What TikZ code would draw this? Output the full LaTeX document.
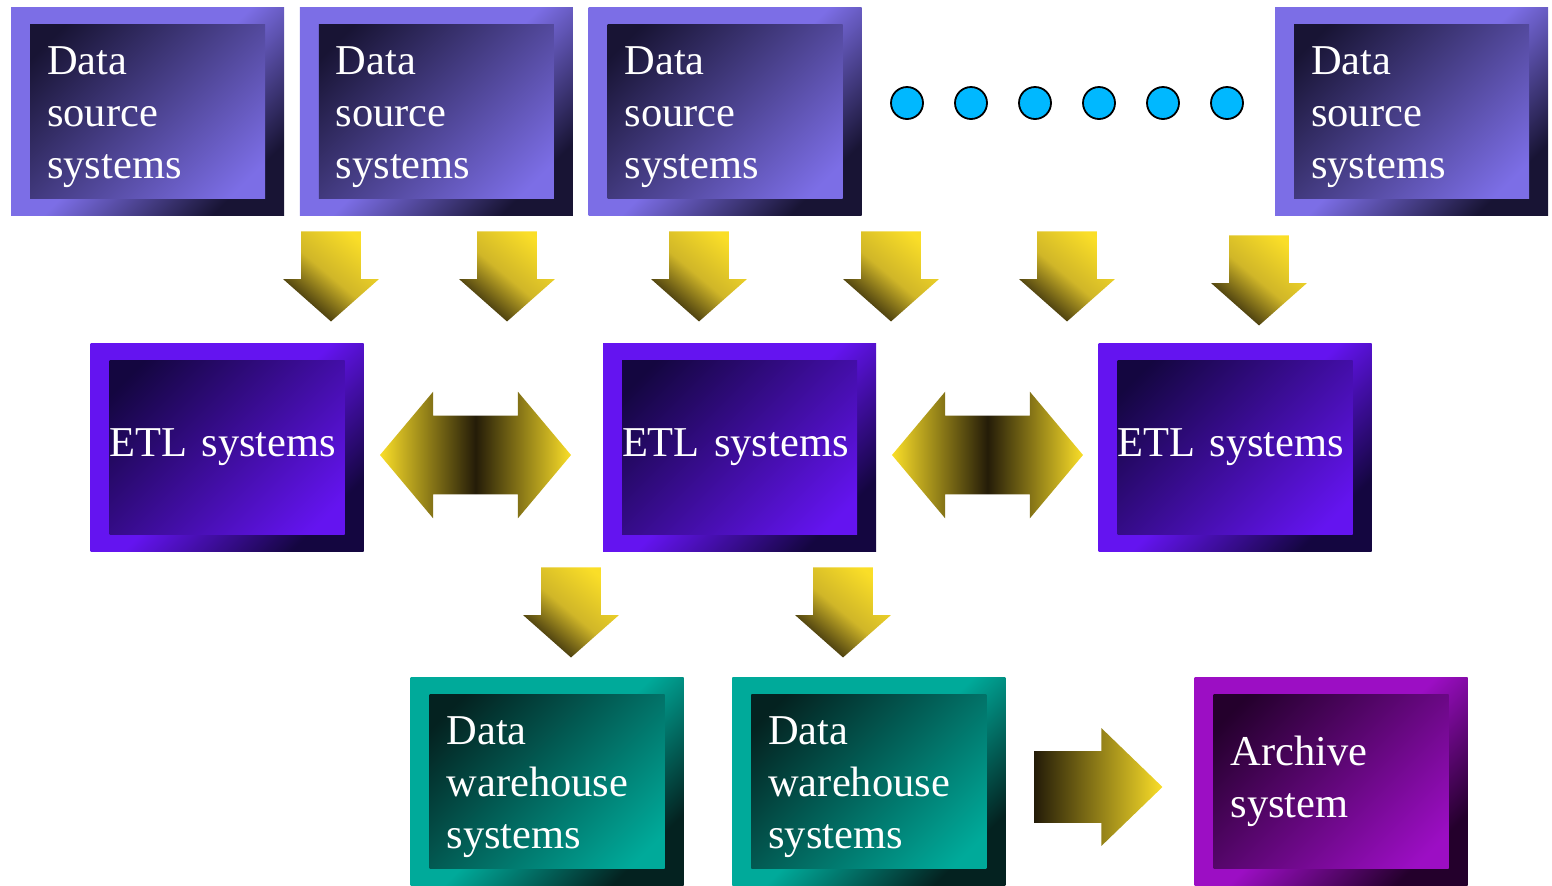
\documentclass[tikz,border=0pt]{standalone}
\usepackage{fontspec}
\setmainfont{Liberation Serif}
\usetikzlibrary{positioning,shapes.arrows}

\definecolor{dsFrame}{RGB}{124,110,230}
\definecolor{dsDeep}{RGB}{24,20,52}
\definecolor{etlFrame}{RGB}{100,20,240}
\definecolor{etlDeep}{RGB}{20,6,64}
\definecolor{dwFrame}{RGB}{0,170,154}
\definecolor{dwDeep}{RGB}{4,34,32}
\definecolor{arcFrame}{RGB}{156,14,196}
\definecolor{arcDeep}{RGB}{36,0,44}
\definecolor{goldHi}{RGB}{250,222,40}
\definecolor{goldMid}{RGB}{208,182,40}
\definecolor{goldLo}{RGB}{36,28,8}
\definecolor{dotBlue}{RGB}{0,184,255}

\newcommand\sysfont{\fontsize{21.25pt}{26pt}\selectfont}

\begin{document}
\begin{tikzpicture}[x=0.5pt,y=-0.5pt,
   sysbox/.style 2 args={minimum width=136.5pt,minimum height=104pt,inner sep=0pt,
      text width=100.5pt,align=left,text=white,font=\sysfont,
      top color=#1,bottom color=#2,middle color=#1,shading angle=45,
      path picture={\shade[top color=#2,bottom color=#1,shading angle=45]
         ([xshift=9.5pt,yshift=-8.5pt]path picture bounding box.north west) rectangle
         ([xshift=-9.5pt,yshift=8.5pt]path picture bounding box.south east);}},
   lowered/.style={execute at begin node={\rule{0pt}{20pt}}},
   dsbox/.style={sysbox={dsFrame}{dsDeep},lowered},
   etlbox/.style={sysbox={etlFrame}{etlDeep},text width=117.5pt},
   dwbox/.style={sysbox={dwFrame}{dwDeep},lowered},
   arcbox/.style={sysbox={arcFrame}{arcDeep}},
   downarrow/.style={single arrow,shape border rotate=270,anchor=tip,inner sep=14.75pt,
      minimum height=45pt,single arrow head extend=9pt,
      single arrow tip angle=97,top color=goldHi,bottom color=goldLo,middle color=goldMid,
      shading angle=-40},
   bothways/.style={double arrow,inner sep=19.5pt,minimum height=95.5pt,
      double arrow head extend=12pt,double arrow tip angle=100,
      left color=goldHi,right color=goldHi,middle color=goldLo},
   onward/.style={single arrow,anchor=tip,inner sep=17.75pt,minimum height=64pt,
      single arrow head extend=11.5pt,single arrow tip angle=88,
      left color=goldLo,right color=goldHi},
   dot/.style={circle,minimum size=16pt,inner sep=0pt,fill=dotBlue,draw=black,line width=0.9pt}]
\useasboundingbox (0,0) rectangle (1552,885);

\node[dsbox] (ds1) at (147.5,111) {Data\\source\\systems};
\node[dsbox,right=7.5pt of ds1] (ds2) {Data\\source\\systems};
\node[dsbox,right=7.5pt of ds2] (ds3) {Data\\source\\systems};
\node[dsbox] (ds4) at (1411.5,111) {Data\\source\\systems};
\foreach \i in {0,...,5}
   \node[dot] (dot\i) at (907+64*\i,103) {};

\foreach \x/\y [count=\n] in {331/322,507/322,699/322,891/322,1067/322,1259/326}
   \node[downarrow] (feed\n) at (\x,\y) {};

\node[etlbox] (etl1) at (227,447) {ETL systems};
\node[etlbox] (etl2) at (739.5,447) {ETL systems};
\node[etlbox] (etl3) at (1235,447) {ETL systems};
\node[bothways] (swap1) at (475.5,455) {};
\node[bothways] (swap2) at (987.5,455) {};

\node[downarrow] (load1) at (571,658) {};
\node[downarrow] (load2) at (843,658) {};

\node[dwbox] (dw1) at (547,781.5) {Data\\warehouse\\systems};
\node[dwbox,right=24pt of dw1] (dw2) {Data\\warehouse\\systems};
\node[arcbox] (arc) at (1331,781.5) {Archive\\system};
\node[onward] (keep) at (1163,787) {};
\end{tikzpicture}
\end{document}
